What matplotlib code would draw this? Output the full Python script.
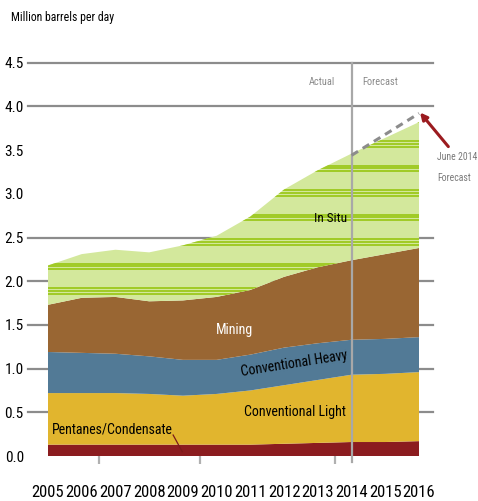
import numpy as np
import matplotlib
matplotlib.use("Agg")
import matplotlib.pyplot as plt
from matplotlib import font_manager
from matplotlib.font_manager import FontProperties

# ---------------- data ----------------
years = [2005, 2006, 2007, 2008, 2009, 2010, 2011, 2012, 2013, 2014, 2015, 2016]
pentanes = [0.13, 0.13, 0.13, 0.13, 0.13, 0.13, 0.13, 0.14, 0.15, 0.16, 0.16, 0.17]
conv_light = [0.59, 0.59, 0.59, 0.58, 0.56, 0.58, 0.62, 0.67, 0.72, 0.77, 0.78, 0.79]
conv_heavy = [0.47, 0.46, 0.45, 0.43, 0.41, 0.39, 0.41, 0.43, 0.42, 0.40, 0.40, 0.40]
mining = [0.54, 0.63, 0.65, 0.63, 0.68, 0.72, 0.74, 0.81, 0.87, 0.91, 0.97, 1.02]
in_situ = [0.45, 0.50, 0.54, 0.56, 0.63, 0.70, 0.84, 1.00, 1.11, 1.22, 1.33, 1.44]
june2014_years = [2014, 2016]
june2014_total = [3.44, 3.92]
y_ticks = [0.0, 0.5, 1.0, 1.5, 2.0, 2.5, 3.0, 3.5, 4.0, 4.5]
grid_values = [0.5, 1.0, 1.5, 2.0, 2.5, 4.0, 4.5]
divider_year = 2014

# ---------------- fonts ----------------
cands = []
for f in font_manager.fontManager.ttflist:
    nm = f.name
    st = str(f.stretch)
    if ("Narrow" in nm or "Condensed" in nm or st in ("condensed", "semi-condensed", "extra-condensed")) \
            and f.style == "normal" and f.weight in (400, "normal", "regular"):
        cands.append(f)
pref = ["Liberation Sans Narrow", "Roboto Condensed", "Open Sans Condensed", "DejaVu Sans"]
chosen = None
for p in pref:
    for f in cands:
        if f.name == p:
            chosen = f
            break
    if chosen:
        break
if chosen is None and cands:
    chosen = cands[0]
if chosen is not None:
    FP = FontProperties(fname=chosen.fname)
    SC = 1.0
else:
    FP = FontProperties(family="DejaVu Sans")
    SC = 0.82

col_red = "#8b1c1f"
col_yellow = "#e1b52e"
col_blue = "#527a96"
col_brown = "#996633"
col_green = "#d3e89c"
col_stripe = "#9cc81c"
col_grid = "#8c8c8c"

fig = plt.figure(figsize=(4.78, 5.01), dpi=100)
ax = fig.add_axes([28 / 478, 1 - 456 / 501, 405 / 478, (456 - 62.7) / 501])
ax.set_xlim(2004.407, 2016.415)
ax.set_ylim(0, 4.5)

for g in grid_values:
    ax.axhline(g, color=col_grid, lw=1.6, zorder=1, clip_on=False)

polys = ax.stackplot(years, pentanes, conv_light, conv_heavy, mining, in_situ,
                     colors=[col_red, col_yellow, col_blue, col_brown, col_green],
                     zorder=2, linewidth=0)

# hatch-like horizontal stripes inside the In Situ area
green_path = polys[4].get_paths()[0]
for yc in np.arange(1.33, 4.0, 0.28):
    for off in (-0.032, 0.0, 0.032):
        ln = ax.axhline(yc + off, color=col_stripe, lw=1.3, zorder=2.5)
        ln.set_clip_path(green_path, ax.transData)

# divider line actual/forecast
ax.plot([divider_year, divider_year], [-0.07, 4.5], color="#a8a8a8", lw=1.6,
        zorder=4, clip_on=False)

# June 2014 forecast dashed line
ax.plot(june2014_years, june2014_total, color="#8c8c8c", lw=2.2, ls=(0, (2.5, 1.8)),
        zorder=5, clip_on=False)
ax.annotate("", xy=(2016.03, 3.93), xytext=(2016.87, 3.54),
            arrowprops=dict(arrowstyle="-|>", color="#9b1b1f", lw=2.2,
                            mutation_scale=10, shrinkA=0, shrinkB=0),
            annotation_clip=False, zorder=6)
ax.text(2016.54, 3.42, "June 2014", fontproperties=FP, fontsize=7 * SC,
        color="#7a7a7a", ha="left", va="center", clip_on=False)
ax.text(2016.54, 3.18, "Forecast", fontproperties=FP, fontsize=7 * SC,
        color="#7a7a7a", ha="left", va="center", clip_on=False)

ax.text(2013.13, 4.28, "Actual", fontproperties=FP, fontsize=7.5 * SC,
        color="#8a8a8a", ha="center", va="center")
ax.text(2014.85, 4.28, "Forecast", fontproperties=FP, fontsize=7.5 * SC,
        color="#8a8a8a", ha="center", va="center")

# series labels
ax.text(2013.37, 2.72, "In Situ", fontproperties=FP, fontsize=9.5 * SC,
        color="black", ha="center", va="center", zorder=7)
ax.text(2010.52, 1.44, "Mining", fontproperties=FP, fontsize=10 * SC,
        color="white", ha="center", va="center", zorder=7)
ax.text(2012.30, 1.06, "Conventional Heavy", fontproperties=FP, fontsize=10 * SC,
        color="black", ha="center", va="center", rotation=9, zorder=7)
ax.text(2012.33, 0.50, "Conventional Light", fontproperties=FP, fontsize=10 * SC,
        color="black", ha="center", va="center", zorder=7)
ax.text(2006.9, 0.30, "Pentanes/Condensate", fontproperties=FP, fontsize=10 * SC,
        color="black", ha="center", va="center", zorder=7)
ax.plot([2008.71, 2008.98], [0.24, 0.05], color="#7a1a1a", lw=0.9, zorder=7)

# axes styling
for s in ax.spines.values():
    s.set_visible(False)
ax.set_yticks(y_ticks)
ax.set_yticklabels([f"{v:.1f}" for v in y_ticks], fontproperties=FP)
ax.set_xticks(years)
ax.set_xticklabels([str(y) for y in years], fontproperties=FP)
ax.set_xticks([2006.5, 2009.5, 2013.5], minor=True)
ax.tick_params(axis="y", length=0, pad=3, labelsize=11 * SC)
ax.tick_params(axis="x", which="major", length=0, pad=21, labelsize=12 * SC)
ax.tick_params(axis="x", which="minor", length=6, width=1.6, color="#b0b0b0",
               direction="out")

fig.text(11 / 478, 1 - 17 / 501, "Million barrels per day", fontproperties=FP,
         fontsize=8.5 * SC, ha="left", va="center")

fig.savefig("out.png", dpi=100)
